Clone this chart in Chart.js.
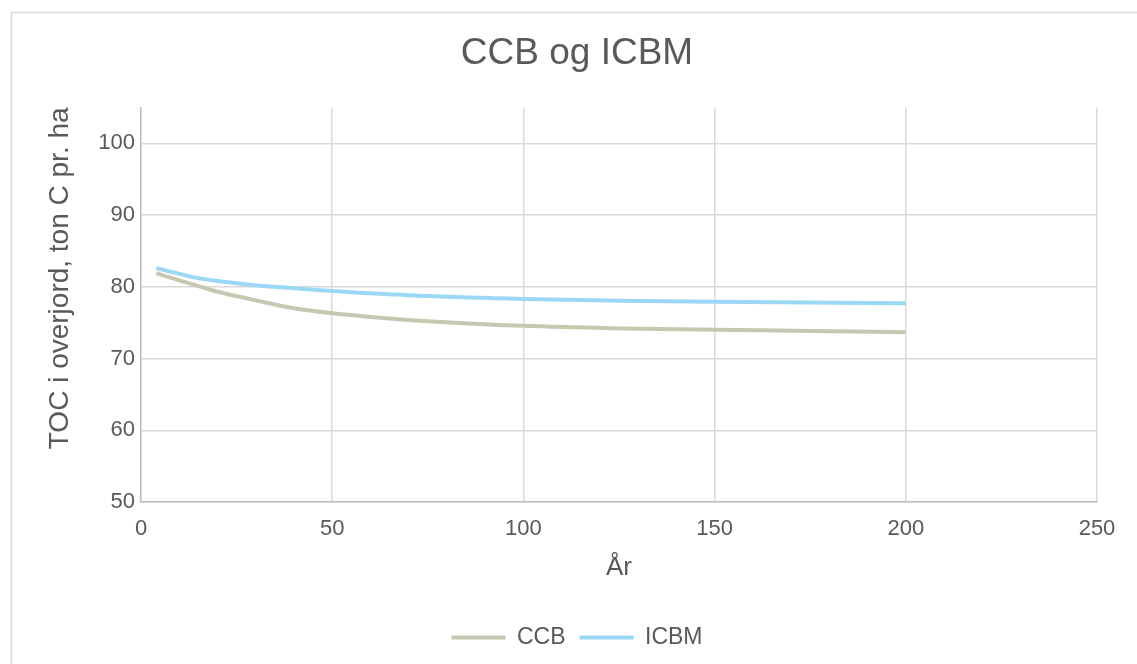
<!DOCTYPE html>
<html>
<head>
<meta charset="utf-8">
<script src="https://cdn.jsdelivr.net/npm/chart.js@4/dist/chart.umd.min.js"></script>
<style>
  body { margin: 0; background: #fff; }
  #wrap { width: 1137px; height: 664px; position: relative; }
</style>
</head>
<body>
<div id="wrap"><canvas id="tocChart"></canvas></div>
<script>
// data
var years = [4, 10, 15, 20, 25, 30, 40, 50, 60, 75, 100, 125, 150, 175, 200];
var ccbValues = [81.9, 80.9, 80.1, 79.3, 78.7, 78.1, 77.0, 76.3, 75.8, 75.2, 74.55, 74.2, 74.0, 73.85, 73.65];
var icbmValues = [82.6, 81.8, 81.2, 80.8, 80.5, 80.2, 79.8, 79.4, 79.1, 78.7, 78.3, 78.05, 77.9, 77.8, 77.7];
var xTicks = [0, 50, 100, 150, 200, 250];
var yTicks = [50, 60, 70, 80, 90, 100];

var textColor = '#595959';
var fontFam = '"Liberation Sans", Arial, sans-serif';

function toPoints(xs, ys) {
  var out = [];
  for (var i = 0; i < xs.length; i++) {
    out.push({ x: xs[i], y: ys[i] });
  }
  return out;
}

// white background + outer frame like the Excel chart area
var framePlugin = {
  id: 'frame',
  beforeDraw: function (chart) {
    var c = chart.ctx;
    c.save();
    c.fillStyle = '#fff';
    c.fillRect(0, 0, chart.width, chart.height);
    c.strokeStyle = '#d9d9d9';
    c.lineWidth = 1.5;
    c.strokeRect(11.5, 12.5, 1200, 700);
    c.restore();
  }
};

var ctx = document.getElementById('tocChart').getContext('2d');
var tocChart = new Chart(ctx, {
  type: 'line',
  data: {
    datasets: [{
      label: 'CCB',
      data: toPoints(years, ccbValues),
      borderColor: '#c8c7b2',
      backgroundColor: '#c8c7b2',
      borderWidth: 4,
      pointRadius: 0,
      cubicInterpolationMode: 'monotone'
    }, {
      label: 'ICBM',
      data: toPoints(years, icbmValues),
      borderColor: '#9bd8f5',
      backgroundColor: '#9bd8f5',
      borderWidth: 4,
      pointRadius: 0,
      cubicInterpolationMode: 'monotone'
    }]
  },
  options: {
    responsive: true,
    maintainAspectRatio: false,
    animation: false,
    layout: { padding: { left: 17, right: 0, top: 0, bottom: 5 } },
    plugins: {
      title: {
        display: true,
        text: 'CCB og ICBM',
        color: textColor,
        font: { family: fontFam, size: 37, weight: 'normal' },
        padding: { top: 32, bottom: 31 }
      },
      legend: {
        position: 'bottom',
        labels: {
          color: textColor,
          font: { family: fontFam, size: 23 },
          boxWidth: 54,
          boxHeight: 4,
          padding: 14,
          generateLabels: function (chart) {
            return chart.data.datasets.map(function (ds, i) {
              return {
                text: ds.label,
                fillStyle: ds.borderColor,
                strokeStyle: ds.borderColor,
                lineWidth: 0,
                fontColor: textColor,
                datasetIndex: i
              };
            });
          }
        }
      },
      tooltip: { enabled: false }
    },
    scales: {
      x: {
        type: 'linear',
        min: 0,
        max: 250,
        afterFit: function (s) { s.height = 110; },
        afterBuildTicks: function (s) {
          s.ticks = xTicks.map(function (v) { return { value: v }; });
        },
        ticks: { color: textColor, font: { family: fontFam, size: 22 }, padding: 14, maxRotation: 0 },
        grid: { color: '#d9d9d9', lineWidth: 1.5, drawTicks: false },
        border: { color: '#bfbfbf', width: 1.5 },
        title: {
          display: true,
          text: 'År',
          color: textColor,
          font: { family: fontFam, size: 26 },
          padding: { top: 0, bottom: 29 }
        }
      },
      y: {
        type: 'linear',
        min: 50,
        max: 105,
        bounds: 'data',
        afterFit: function (s) { s.width = 124; },
        afterBuildTicks: function (s) {
          s.ticks = yTicks.map(function (v) { return { value: v }; });
        },
        ticks: { color: textColor, font: { family: fontFam, size: 22 }, padding: 6 },
        grid: { color: '#d9d9d9', lineWidth: 1.5, drawTicks: false },
        border: { color: '#bfbfbf', width: 1.5 },
        title: {
          display: true,
          text: 'TOC i overjord, ton C pr. ha',
          align: 'end',
          color: textColor,
          font: { family: fontFam, size: 28 },
          padding: { top: 26, bottom: 0 }
        }
      },
      rightSpace: {
        type: 'linear',
        position: 'right',
        display: true,
        afterFit: function (s) { s.width = 40; },
        ticks: { display: false },
        grid: { display: false, drawTicks: false },
        border: { display: false }
      }
    }
  },
  plugins: [framePlugin]
});
</script>
</body>
</html>
